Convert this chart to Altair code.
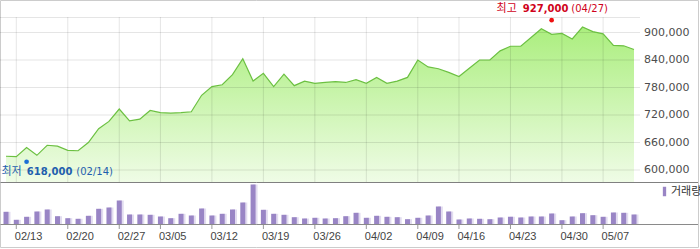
import altair as alt
import pandas as pd

# ---- data -------------------------------------------------------------
trade_days = pd.bdate_range("2012-02-10", "2012-05-10")
holidays = pd.to_datetime(["2012-03-01", "2012-04-11", "2012-05-01"])
trade_days = trade_days[~trade_days.isin(holidays)]
dates = [d.strftime("%m/%d") for d in trade_days]

close = [630000, 629000, 649000, 632000, 654000, 652000, 643000, 642000, 660000, 690000,
         706000, 733000, 707000, 711000, 730000, 725000, 724000, 725000, 727000, 763000,
         782000, 786000, 808000, 843000, 794000, 811000, 782000, 809000, 784000, 794000,
         789000, 791000, 793000, 791000, 797000, 789000, 802000, 789000, 794000, 802000,
         840000, 825000, 821000, 813000, 804000, 822000, 840000, 840000, 860000, 870000,
         870000, 889000, 908000, 896000, 898000, 886000, 912000, 902000, 897000, 872000,
         871000, 863000]

volume = [127000, 47000, 77000, 130000, 150000, 83000, 63000, 57000, 87000, 157000,
          170000, 240000, 100000, 100000, 97000, 80000, 63000, 107000, 90000, 160000,
          90000, 107000, 150000, 220000, 400000, 147000, 107000, 97000, 73000, 60000,
          67000, 60000, 63000, 83000, 117000, 67000, 87000, 77000, 73000, 53000,
          67000, 90000, 180000, 130000, 50000, 60000, 57000, 53000, 70000, 77000,
          70000, 80000, 80000, 110000, 43000, 80000, 113000, 93000, 77000, 120000,
          117000, 100000]

week_labels = ["02/13", "02/20", "02/27", "03/05", "03/12", "03/19", "03/26",
               "04/02", "04/09", "04/16", "04/23", "04/30", "05/07"]
price_ticks = [600000, 660000, 720000, 780000, 840000, 900000]

high_date, high_value = "04/27", 927000
low_date, low_value = "02/14", 618000

df = pd.DataFrame({"date": dates, "close": close, "volume": volume, "series": "거래량"})
weeks = pd.DataFrame({"date": week_labels})
ticks = pd.DataFrame({"price": price_ticks,
                      "label": [f"{p:,}" for p in price_ticks]})
hi = pd.DataFrame({"date": [high_date], "price": [high_value],
                   "t1": ["최고"], "t2": [f"{high_value:,}"], "t3": [f"({high_date})"]})
lo = pd.DataFrame({"date": [low_date], "price": [low_value],
                   "t1": ["최저"], "t2": [f"{low_value:,}"], "t3": [f"({low_date})"]})

# ---- scales -----------------------------------------------------------
W, H = 700, 249
y900, y600 = 32.5, 170.0
p_top, p_bot = 17.0, 182.0
ppv = (y600 - y900) / 300000.0
p_dom = [600000 - (p_bot - y600) / ppv, 900000 + (y900 - p_top) / ppv]

xs = alt.Scale(type="point", domain=dates, range=[6, 634], padding=0)
ys = alt.Scale(domain=p_dom, range=[p_bot, p_top], zero=False, nice=False)
vs = alt.Scale(domain=[0, 405000], range=[224.5, 184], zero=True, nice=False)

X = alt.X("date:O", scale=xs, axis=None, sort=dates)
Y = alt.Y("price:Q", scale=ys, axis=None)

GRID = dict(stroke="#000000", strokeOpacity=0.1, strokeWidth=1)
one = df.head(1)

# frame
frame = alt.Chart(one).mark_rect(fill="white", stroke="#cccccc", strokeWidth=1).encode(
    x=alt.value(0.5), x2=alt.value(698.5), y=alt.value(0.5), y2=alt.value(247.5))

fill = alt.Gradient(gradient="linear", x1=1, x2=1, y1=0, y2=1,
                    stops=[alt.GradientStop(color="#abee7e", offset=0),
                           alt.GradientStop(color="#effce6", offset=1)])
area = alt.Chart(df).mark_area(fill=fill).encode(
    x=X, y=alt.Y("close:Q", scale=ys, axis=None), y2=alt.datum(p_dom[0]))

hgrid = alt.Chart(ticks).mark_rule(**GRID).encode(
    y=Y, x=alt.value(0), x2=alt.value(640))
topline = alt.Chart(one).mark_rule(**GRID).encode(
    y=alt.value(p_top + 0.5), x=alt.value(0), x2=alt.value(640))
vgrid = alt.Chart(weeks).mark_rule(**GRID).encode(
    x=X, y=alt.value(p_top), y2=alt.value(p_bot))

price_labels = alt.Chart(ticks).mark_text(
    align="left", baseline="middle", font="DejaVu Sans", fontSize=11, color="#4d4d4d"
).encode(y=Y, x=alt.value(644), text="label:N")

line = alt.Chart(df).mark_line(color="#6cc042", strokeWidth=1.2).encode(
    x=X, y=alt.Y("close:Q", scale=ys, axis=None))

sep = alt.Chart(one).mark_rule(color="#808080", strokeWidth=1).encode(
    x=alt.value(0.5), x2=alt.value(698), y=alt.value(182.5))
base = alt.Chart(one).mark_rule(color="#8a8a8a", strokeWidth=1).encode(
    x=alt.value(0.5), x2=alt.value(698), y=alt.value(224.5))

xticks = alt.Chart(weeks).mark_rule(color="#999999", strokeWidth=1).encode(
    x=X, y=alt.value(225), y2=alt.value(229))
date_labels = alt.Chart(weeks).mark_text(
    align="left", baseline="middle", dx=-1.5, font="Liberation Sans", fontSize=11,
    color="#444444"
).encode(x=X, y=alt.value(236.5), text="date:N")

shadow = alt.Chart(df).mark_bar(color="#e2dcf0", size=5).encode(
    x=X, xOffset=alt.value(2), y=alt.Y("volume:Q", scale=vs, axis=None), y2=alt.datum(0))
bars = alt.Chart(df).mark_bar(size=5).encode(
    x=X,
    y=alt.Y("volume:Q", scale=vs, axis=None), y2=alt.datum(0),
    color=alt.Color("series:N", scale=alt.Scale(range=["#9985c5"]),
                    legend=alt.Legend(orient="none", legendX=659, legendY=186, title=None,
                                      symbolType="M-0.35,-1H0.35V1H-0.35Z", symbolSize=90,
                                      symbolStrokeWidth=0, labelFont="Noto Sans CJK KR",
                                      labelFontSize=11, labelColor="#333333", labelOffset=1,
                                      padding=0)))

def marker(d, color):
    return alt.Chart(d).mark_circle(color=color, size=22, opacity=1).encode(x=X, y=Y)

def label(d, field, dx, dy, color, bold=False, font="DejaVu Sans", size=10, align="center"):
    return alt.Chart(d).mark_text(dx=dx, dy=dy, color=color, font=font, fontSize=size,
                                  fontWeight="bold" if bold else "normal", align=align,
                                  baseline="middle").encode(x=X, y=Y, text=f"{field}:N")

red = "#d0021b"
blue = "#1f5fae"
hi_layers = [marker(hi, "#ee1111"),
             label(hi, "t1", -45, -11, red, font="Noto Sans CJK KR", size=11),
             label(hi, "t2", -6, -11, red, bold=True),
             label(hi, "t3", 38, -11, red)]
lo_layers = [marker(lo, "#1c6fd6"),
             label(lo, "t1", -15, 10, blue, font="Noto Sans CJK KR", size=11),
             label(lo, "t2", 23, 10, blue, bold=True),
             label(lo, "t3", 68, 10, blue)]

chart = alt.layer(frame, area, hgrid, topline, vgrid, price_labels, line, sep, shadow, bars,
                  base, xticks, date_labels, *hi_layers, *lo_layers
                  ).resolve_scale(y="independent").properties(
    width=W, height=H, padding=0, autosize=alt.AutoSizeParams(type="none")
).configure_view(stroke=None)

chart.save("out.html", embed_options={"renderer": "svg", "actions": False})
